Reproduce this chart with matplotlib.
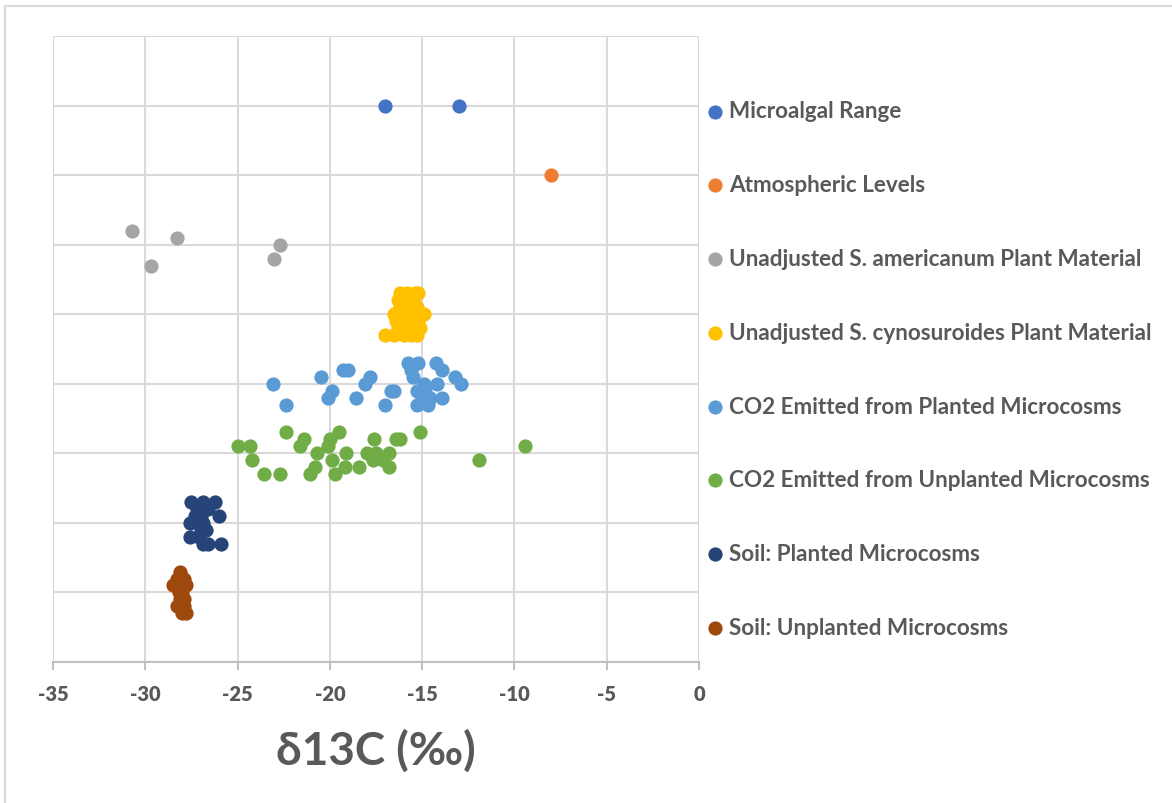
import matplotlib
matplotlib.use("Agg")
import matplotlib.pyplot as plt
from matplotlib.patches import Rectangle

plt.rcParams['font.family'] = ['Lato', 'DejaVu Sans']

# ---- data ----
labels = ["Microalgal Range", "Atmospheric Levels",
          "Unadjusted S. americanum Plant Material",
          "Unadjusted S. cynosuroides Plant Material",
          "CO2 Emitted from Planted Microcosms",
          "CO2 Emitted from Unplanted Microcosms",
          "Soil: Planted Microcosms", "Soil: Unplanted Microcosms"]
colors = ["#4472C4", "#ED7D31", "#A5A5A5", "#FFC000",
          "#5B9BD5", "#70AD47", "#264478", "#9E480E"]

micro_x = [-17.0, -13.0]
micro_y = [8.0, 8.0]

atm_x = [-8.0]
atm_y = [7.0]

amer_x = [-30.7, -28.3, -29.7, -22.7, -23.0]
amer_y = [6.2, 6.1, 5.7, 6.0, 5.8]

cyno_x = [-16.2, -15.8, -15.4, -15.2, -16.3, -15.9, -15.5, -16.2, -15.7, -15.3,
          -16.5, -16.0, -15.5, -14.9, -16.4, -15.8, -15.2, -16.3, -15.8, -15.1,
          -17.0, -16.5, -16.0, -15.6, -15.3]
cyno_y = [5.3, 5.3, 5.3, 5.3, 5.2, 5.2, 5.2, 5.1, 5.1, 5.1,
          5.0, 5.0, 5.0, 5.0, 4.9, 4.9, 4.9, 4.8, 4.8, 4.8,
          4.7, 4.7, 4.7, 4.7, 4.7]

co2p_x = [-23.1, -22.4, -20.5, -19.9, -20.1, -19.3, -19.0, -18.6, -17.8, -18.1,
          -17.0, -16.7, -16.5, -15.75, -15.2, -14.25, -13.9, -15.5, -13.2, -12.9,
          -14.2, -14.9, -13.9, -15.3, -14.7, -15.0, -14.85, -15.6, -15.3, -14.6]
co2p_y = [4.0, 3.7, 4.1, 3.9, 3.8, 4.2, 4.2, 3.8, 4.1, 4.0,
          3.7, 3.9, 3.9, 4.3, 4.3, 4.3, 4.2, 4.1, 4.1, 4.0,
          4.0, 4.0, 3.8, 3.7, 3.7, 3.8, 3.9, 4.2, 3.9, 3.8]

co2u_x = [-25.0, -24.3, -24.2, -23.55, -22.7, -22.4, -21.4, -21.6, -20.7, -20.8,
          -21.1, -20.0, -19.5, -20.1, -19.9, -19.7, -19.1, -19.2, -18.4, -18.0,
          -17.6, -17.65, -16.8, -16.8, -16.4, -16.2, -15.1, -11.9, -9.45, -17.5, -17.1]
co2u_y = [3.1, 3.1, 2.9, 2.7, 2.7, 3.3, 3.2, 3.1, 3.0, 2.8,
          2.7, 3.2, 3.3, 3.1, 2.9, 2.7, 3.0, 2.8, 2.8, 3.0,
          3.2, 2.9, 3.0, 2.8, 3.2, 3.2, 3.3, 2.9, 3.1, 3.0, 2.9]

soilp_x = [-27.5, -26.9, -26.2, -27.2, -26.6, -26.0, -27.3, -27.6, -26.9, -27.0,
           -26.7, -27.6, -27.1, -26.9, -26.6, -25.9, -27.0]
soilp_y = [2.3, 2.3, 2.3, 2.2, 2.2, 2.1, 2.1, 2.0, 2.0, 1.9,
           1.9, 1.8, 1.8, 1.7, 1.7, 1.7, 2.1]

soilu_x = [-28.1, -27.9, -28.3, -28.5, -27.8, -28.0, -28.1, -27.9, -28.3, -27.9,
           -28.0, -27.8, -28.2]
soilu_y = [1.3, 1.2, 1.2, 1.1, 1.1, 1.0, 0.9, 0.9, 0.8, 0.8,
           0.7, 0.7, 1.0]

series = [(micro_x, micro_y), (atm_x, atm_y), (amer_x, amer_y), (cyno_x, cyno_y),
          (co2p_x, co2p_y), (co2u_x, co2u_y), (soilp_x, soilp_y), (soilu_x, soilu_y)]

xticks = [-35, -30, -25, -20, -15, -10, -5, 0]
xlabel = "δ13C (‰)"

# ---- figure ----
W, H = 1172, 804
fig = plt.figure(figsize=(W / 100, H / 100), dpi=100)
fig.patches.append(Rectangle((5 / W, -0.1), 1.2, 1 - 7 / H + 0.1, transform=fig.transFigure,
                             fill=False, edgecolor="#D9D9D9", linewidth=1.5))

ax = fig.add_axes([53 / W, 1 - 663 / H, (699 - 53) / W, (663 - 37) / H])
text_col = "#595959"
grid_col = "#D9D9D9"

for (xs, ys), c, lab in zip(series, colors, labels):
    ax.scatter(xs, ys, s=105, color=c, label=lab, zorder=3, linewidths=0)

ax.set_xlim(-35, 0)
ax.set_ylim(0, 9)
ax.set_xticks(xticks)
ax.set_xticklabels([str(t) for t in xticks], fontweight="heavy", fontsize=14.5,
                   color=text_col)
ax.set_yticks(range(0, 10))
ax.set_yticklabels([])
ax.grid(True, color=grid_col, linewidth=1.5, zorder=0)
ax.set_axisbelow(True)
for s in ["top", "right", "left"]:
    ax.spines[s].set_visible(False)
ax.spines["bottom"].set_color("#BFBFBF")
ax.spines["bottom"].set_linewidth(1.5)
ax.tick_params(axis="x", colors="#BFBFBF", length=6, width=1.5, labelcolor=text_col,
               pad=10)
ax.tick_params(axis="y", length=0)

ax.set_xlabel(xlabel, fontsize=33, fontweight="bold", color=text_col, labelpad=18)

leg = ax.legend(loc="upper left", bbox_to_anchor=(708 / W, 1 - 101.5 / H),
                bbox_transform=fig.transFigure, frameon=False,
                prop={"weight": "bold", "size": 16.2}, labelcolor=text_col,
                handlelength=0.6, handletextpad=0.35, labelspacing=2.345,
                borderaxespad=0, borderpad=0, markerscale=1.0)

fig.savefig("out.png", dpi=100)
